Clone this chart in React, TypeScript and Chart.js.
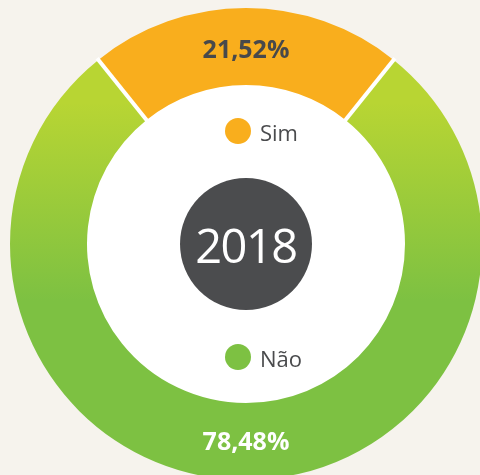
import React, { useEffect, useRef } from "react";
import { Chart, registerables } from "chart.js";

Chart.register(...registerables);

const categories = ["Sim", "Não"];
const values = [21.52, 78.48];
const year = "2018";
const sliceColors = ["#f9ae1d", "gradient"];
const gradientColors = ["#b8d533", "#7dc142"];
const valueLabelColors = ["#48494b", "#ffffff"];
const legendDotColors = ["#f9ae1d", "#7dc142"];

const FONT = "'Open Sans', 'Noto Sans', sans-serif";

const fmt = (v: number) => v.toFixed(2).replace(".", ",") + "%";

const separatorPlugin = {
  id: "separators",
  afterDatasetsDraw(chart: any) {
    const meta = chart.getDatasetMeta(0);
    const ctx = chart.ctx;
    ctx.save();
    meta.data.forEach((arc: any) => {
      const { x, y, startAngle, innerRadius, outerRadius } = arc.getProps(
        ["x", "y", "startAngle", "innerRadius", "outerRadius"],
        true
      );
      ctx.beginPath();
      ctx.strokeStyle = "#ffffff";
      ctx.lineWidth = 4;
      ctx.moveTo(x + Math.cos(startAngle) * (innerRadius - 2), y + Math.sin(startAngle) * (innerRadius - 2));
      ctx.lineTo(x + Math.cos(startAngle) * (outerRadius + 2), y + Math.sin(startAngle) * (outerRadius + 2));
      ctx.stroke();
    });
    meta.data.forEach((arc: any, i: number) => {
      const p = arc.getCenterPoint();
      ctx.font = `bold 25px ${FONT}`;
      ctx.fillStyle = valueLabelColors[i];
      ctx.textAlign = "center";
      ctx.textBaseline = "middle";
      const dy = p.y < arc.y ? 4 : 1;
      ctx.fillText(fmt(values[i]), p.x, p.y + dy);
    });
    ctx.restore();
  },
};

export default function App() {
  const ref = useRef<HTMLCanvasElement>(null);

  useEffect(() => {
    if (!ref.current) return;
    const chart = new Chart(ref.current, {
      type: "doughnut",
      data: {
        labels: categories,
        datasets: [
          {
            data: values,
            borderWidth: 0,
            backgroundColor: (c: any) => {
              const color = sliceColors[c.dataIndex];
              if (color !== "gradient") return color;
              const area = c.chart.chartArea;
              if (!area) return gradientColors[1];
              const g = c.chart.ctx.createLinearGradient(
                0,
                area.top + area.height * 0.2,
                0,
                area.top + area.height * 0.62
              );
              g.addColorStop(0, gradientColors[0]);
              g.addColorStop(1, gradientColors[1]);
              return g;
            },
          },
        ],
      },
      options: {
        responsive: false,
        animation: false,
        devicePixelRatio: 1,
        cutout: 159,
        rotation: -(values[0] * 3.6) / 2,
        layout: { padding: 0 },
        plugins: {
          legend: { display: false },
          tooltip: { enabled: false },
        },
      } as any,
      plugins: [separatorPlugin],
    });
    return () => chart.destroy();
  }, []);

  return (
    <div
      style={{
        position: "fixed",
        left: 0,
        top: 0,
        width: 480,
        height: 475,
        overflow: "hidden",
        background: "#f6f3ed",
        fontFamily: FONT,
      }}
    >
      <div
        style={{
          position: "absolute",
          left: 246 - 160,
          top: 244 - 160,
          width: 320,
          height: 320,
          borderRadius: "50%",
          background: "#ffffff",
        }}
      />
      <canvas
        ref={ref}
        width={472}
        height={472}
        style={{ position: "absolute", left: 10, top: 8, width: 472, height: 472 }}
      />
      <div
        style={{
          position: "absolute",
          left: 246 - 66,
          top: 244 - 66,
          width: 132,
          height: 132,
          borderRadius: "50%",
          background: "#4b4c4e",
          color: "#ffffff",
          display: "flex",
          alignItems: "center",
          justifyContent: "center",
          fontSize: 47,
          letterSpacing: -1.5,
          lineHeight: 1,
        }}
      >
        <span style={{ marginTop: 2 }}>{year}</span>
      </div>
      {categories.map((c, i) => (
        <div
          key={c}
          style={{
            position: "absolute",
            left: 225,
            top: i === 0 ? 117 : 343,
            height: 28,
            display: "flex",
            alignItems: "center",
            color: "#4a4b4d",
            fontSize: 22,
            lineHeight: 1,
          }}
        >
          <span
            style={{
              display: "inline-block",
              width: 26,
              height: 26,
              borderRadius: "50%",
              background: legendDotColors[i],
              marginRight: 9,
            }}
          />
          <span style={{ marginTop: 2 }}>{c}</span>
        </div>
      ))}
    </div>
  );
}
